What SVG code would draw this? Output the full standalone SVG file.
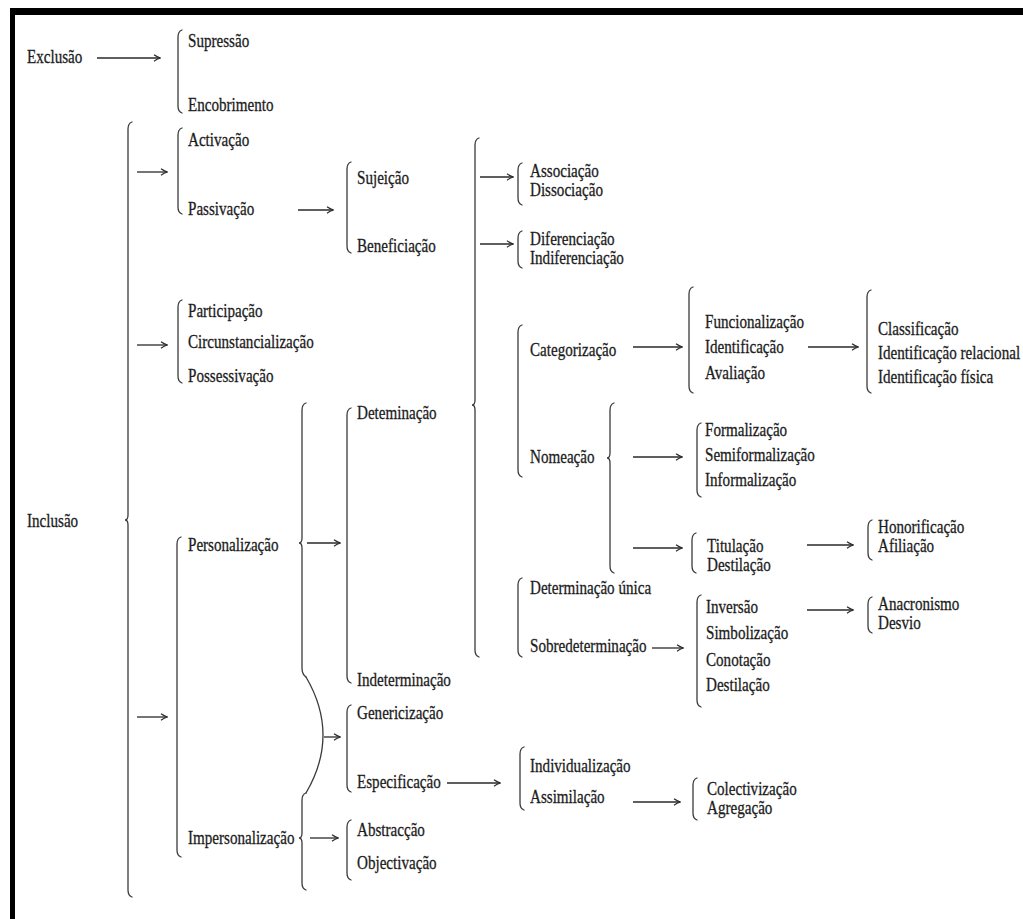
<svg xmlns="http://www.w3.org/2000/svg" width="1023" height="919" viewBox="0 0 1023 919">
<style>
text{font-family:"Liberation Serif","Times New Roman",serif;font-size:19px;fill:#1c1c1c;stroke:#1c1c1c;stroke-width:.3;transform-box:fill-box;transform-origin:left center;transform:scaleX(.795)}
.br{fill:none;stroke:#3a3a3a;stroke-width:1.3;stroke-linecap:round}
.ar{fill:none;stroke:#2a2a2a;stroke-width:1.3;marker-end:url(#ah)}
</style>
<defs>
<marker id="ah" markerWidth="8" markerHeight="8" refX="7" refY="4" orient="auto" markerUnits="userSpaceOnUse">
<path d="M1,0.8 Q4,3 7.5,4 Q4,5 1,7.2" fill="none" stroke="#2a2a2a" stroke-width="1.2"/>
</marker>
</defs>
<rect x="0" y="0" width="1023" height="919" fill="#ffffff"/>
<rect x="10" y="8" width="1013" height="7" fill="#000"/>
<rect x="10" y="8" width="5" height="911" fill="#000"/>

<g id="connectors">
<line class="ar" x1="97" y1="58" x2="160" y2="58"/>
<line class="ar" x1="137" y1="172" x2="167" y2="172"/>
<line class="ar" x1="298" y1="210" x2="333" y2="210"/>
<line class="ar" x1="137" y1="345" x2="167" y2="345"/>
<line class="ar" x1="137" y1="717" x2="167" y2="717"/>
<line class="ar" x1="307" y1="543" x2="340" y2="543"/>
<line class="ar" x1="324" y1="737" x2="340" y2="737"/>
<line class="ar" x1="310" y1="838" x2="338" y2="838"/>
<line class="ar" x1="480" y1="177" x2="513" y2="177"/>
<line class="ar" x1="480" y1="244" x2="513" y2="244"/>
<line class="ar" x1="633" y1="347" x2="682" y2="347"/>
<line class="ar" x1="808" y1="347" x2="858" y2="347"/>
<line class="ar" x1="633" y1="457" x2="682" y2="457"/>
<line class="ar" x1="633" y1="548" x2="682" y2="548"/>
<line class="ar" x1="807" y1="545" x2="853" y2="545"/>
<line class="ar" x1="652" y1="648" x2="683" y2="648"/>
<line class="ar" x1="807" y1="610" x2="853" y2="610"/>
<line class="ar" x1="447" y1="783" x2="500" y2="783"/>
<line class="ar" x1="633" y1="802" x2="680" y2="802"/>
</g>

<g id="exclusao">
<text x="27" y="63">Exclusão</text>
<path class="br" d="M182,30 C179,31 178,33 178,37 L178,106 C178,110 179,112 182,113"/>
<text x="188" y="47">Supressão</text>
<text x="188" y="111">Encobrimento</text>
</g>

<g id="inclusao">
<text x="27" y="527">Inclusão</text>
<path class="br" d="M132,122 C129,123 128,125 128,129 L128,515 C128,518 127,520 125,520 C127,520 128,522 128,525 L128,890 C128,894 129,896 132,897"/>
</g>

<g id="activacao">
<path class="br" d="M182,128 C179,129 178,131 178,135 L178,207 C178,211 179,213 182,214"/>
<text x="188" y="146">Activação</text>
<text x="188" y="215">Passivação</text>
</g>

<g id="sujeicao">
<path class="br" d="M351,162 C348,163 347,165 347,169 L347,246 C347,250 348,252 351,253"/>
<text x="357" y="184">Sujeição</text>
<text x="357" y="252">Beneficiação</text>
</g>

<g id="participacao">
<path class="br" d="M182,300 C179,301 178,303 178,307 L178,376 C178,380 179,382 182,383"/>
<text x="188" y="317">Participação</text>
<text x="188" y="348">Circunstancialização</text>
<text x="188" y="382">Possessivação</text>
</g>

<g id="personalizacao">
<path class="br" d="M181,537 C178,538 177,540 177,544 L177,850 C177,854 178,856 181,857"/>
<text x="188" y="551">Personalização</text>
<text x="188" y="844">Impersonalização</text>
<path class="br" d="M306,403 C303,404 302,406 302,410 L302,538 C302,541 301,543 299,543 C301,543 302,545 302,548 L302,668 C302,672 303,675 306,677"/>
<path class="br" d="M306,677 Q340,735 306,793"/>
<path class="br" d="M306,793 C303,794 302,796 302,800 L302,833 C302,836 301,838 299,838 C301,838 302,840 302,843 L302,883 C302,887 303,889 306,890"/>
</g>

<g id="determinacao">
<path class="br" d="M351,408 C348,409 347,411 347,415 L347,676 C347,680 348,682 351,683"/>
<text x="357" y="419">Deteminação</text>
<text x="357" y="686">Indeterminação</text>
</g>

<g id="genericizacao">
<path class="br" d="M351,705 C348,706 347,708 347,712 L347,785 C347,789 348,791 351,792"/>
<text x="357" y="719">Genericização</text>
<text x="357" y="788">Especificação</text>
</g>

<g id="abstraccao">
<path class="br" d="M351,820 C348,821 347,823 347,827 L347,873 C347,877 348,879 351,880"/>
<text x="357" y="836">Abstracção</text>
<text x="357" y="869">Objectivação</text>
</g>

<g id="determinacao-ramos">
<path class="br" d="M479,138 C476,139 475,141 475,145 L475,400 C475,403 474,405 472,405 C474,405 475,407 475,410 L475,650 C475,654 476,656 479,657"/>
</g>

<g id="associacao">
<path class="br" d="M522,163 C519,164 518,166 518,170 L518,198 C518,202 519,204 522,205"/>
<text x="530" y="177">Associação</text>
<text x="530" y="196">Dissociação</text>
</g>

<g id="diferenciacao">
<path class="br" d="M522,231 C519,232 518,234 518,238 L518,261 C518,265 519,267 522,268"/>
<text x="530" y="245">Diferenciação</text>
<text x="530" y="264">Indiferenciação</text>
</g>

<g id="categorizacao">
<path class="br" d="M522,325 C519,326 518,328 518,332 L518,470 C518,474 519,476 522,477"/>
<text x="530" y="356">Categorização</text>
<text x="530" y="463">Nomeação</text>
</g>

<g id="funcionalizacao">
<path class="br" d="M693,287 C690,288 689,290 689,294 L689,386 C689,390 690,392 693,393"/>
<text x="705" y="328">Funcionalização</text>
<text x="705" y="353">Identificação</text>
<text x="705" y="379">Avaliação</text>
</g>

<g id="classificacao">
<path class="br" d="M871,290 C868,291 867,293 867,297 L867,386 C867,390 868,392 871,393"/>
<text x="878" y="335">Classificação</text>
<text x="878" y="359">Identificação relacional</text>
<text x="878" y="383">Identificação física</text>
</g>

<g id="nomeacao">
<path class="br" d="M614,403 C611,404 610,406 610,410 L610,453 C610,456 609,458 607,458 C609,458 610,460 610,463 L610,566 C610,570 611,572 614,573"/>
</g>

<g id="formalizacao">
<path class="br" d="M701,423 C698,424 697,426 697,430 L697,490 C697,494 698,496 701,497"/>
<text x="705" y="436">Formalização</text>
<text x="705" y="461">Semiformalização</text>
<text x="705" y="486">Informalização</text>
</g>

<g id="titulacao">
<path class="br" d="M696,533 C693,534 692,536 692,540 L692,566 C692,570 693,572 696,573"/>
<text x="707" y="552">Titulação</text>
<text x="707" y="571">Destilação</text>
</g>

<g id="honorificacao">
<path class="br" d="M872,520 C869,521 868,523 868,527 L868,553 C868,557 869,559 872,560"/>
<text x="878" y="533">Honorificação</text>
<text x="878" y="552">Afiliação</text>
</g>

<g id="determinacao-unica">
<path class="br" d="M522,578 C519,579 518,581 518,585 L518,650 C518,654 519,656 522,657"/>
<text x="530" y="594">Determinação única</text>
<text x="530" y="652">Sobredeterminação</text>
</g>

<g id="inversao">
<path class="br" d="M701,595 C698,596 697,598 697,602 L697,700 C697,704 698,706 701,707"/>
<text x="706" y="613">Inversão</text>
<text x="706" y="639">Simbolização</text>
<text x="706" y="666">Conotação</text>
<text x="706" y="691">Destilação</text>
</g>

<g id="anacronismo">
<path class="br" d="M872,597 C869,598 868,600 868,604 L868,626 C868,630 869,632 872,633"/>
<text x="878" y="610">Anacronismo</text>
<text x="878" y="629">Desvio</text>
</g>

<g id="individualizacao">
<path class="br" d="M524,747 C521,748 520,750 520,754 L520,803 C520,807 521,809 524,810"/>
<text x="530" y="772">Individualização</text>
<text x="530" y="803">Assimilação</text>
</g>

<g id="colectivizacao">
<path class="br" d="M697,778 C694,779 693,781 693,785 L693,813 C693,817 694,819 697,820"/>
<text x="707" y="795">Colectivização</text>
<text x="707" y="814">Agregação</text>
</g>
</svg>
